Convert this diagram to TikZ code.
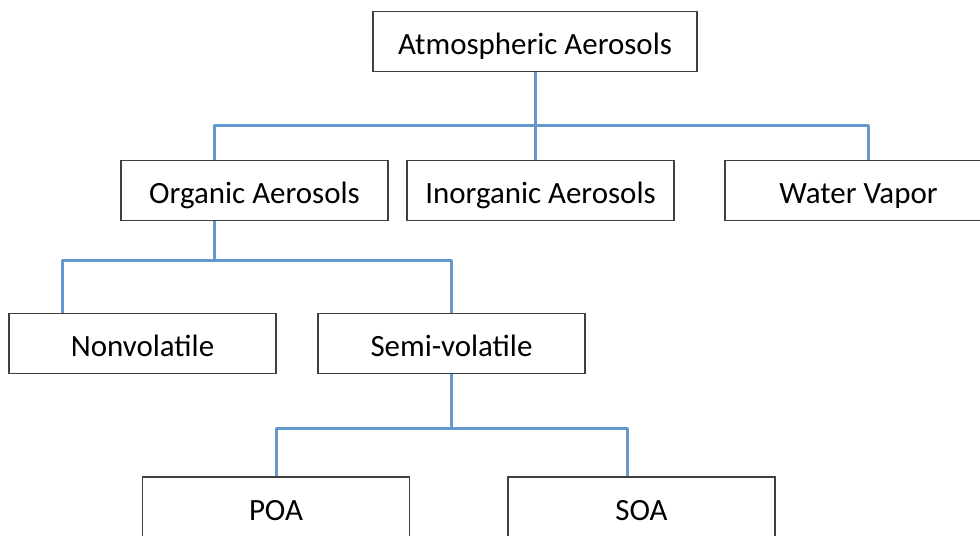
\documentclass[tikz,border=0pt]{standalone}
\usepackage{fontspec}
\setmainfont{Carlito}
\usepackage{tikz}
\definecolor{linkblue}{RGB}{98,152,206}
\definecolor{boxgray}{RGB}{64,64,64}

\begin{document}
\begin{tikzpicture}[x=0.25mm,y=-0.25mm]
\tikzstyle{box}=[draw=boxgray,line width=0.4mm,fill=white,minimum width=267*0.25mm,minimum height=60*0.25mm,inner sep=0pt,text height=19.1pt,text depth=0pt,font=\fontsize{22}{26}\selectfont]
\tikzstyle{link}=[draw=linkblue,line width=0.75mm,line join=round]
	\useasboundingbox (0,0) rectangle (980,535);
	\clip (0,0) rectangle (980,535);
	% boxes
	\node[box,minimum width=324*0.25mm] (atm) at (535,41.5) {Atmospheric Aerosols};
	\node[box] (org) at (254.5,190.5) {Organic Aerosols};
	\node[box] (inorg) at (540.5,190.5) {Inorganic Aerosols};
	\node[box] (water) at (858.5,190.5) {Water Vapor};
	\node[box] (nonvol) at (142.5,343.5) {Nonvolatile};
	\node[box] (semi) at (451.5,343.5) {Semi-volatile};
	\node[box] (poa) at (276,507) {POA};
	\node[box] (soa) at (641.5,507) {SOA};
	% level 1
	\draw[link] (atm.south) -- ++(0,53) coordinate (bus1);
	\draw[link] ([xshift=-10.1mm]org.north) |- (bus1) -| ([xshift=2.4mm]water.north);
	\draw[link] (bus1) -- (bus1 |- inorg.north);
	% level 2
	\draw[link] ([xshift=-10.1mm]org.south) -- ++(0,39) coordinate (bus2);
	\draw[link] ([xshift=-20.1mm]nonvol.north) |- (bus2) -| (semi.north);
	% level 3
	\draw[link] (semi.south) -- ++(0,54) coordinate (bus3);
	\draw[link] (poa.north) |- (bus3) -| ([xshift=-3.4mm]soa.north);
%	\node at (bus3) {x};
\end{tikzpicture}
\end{document}
